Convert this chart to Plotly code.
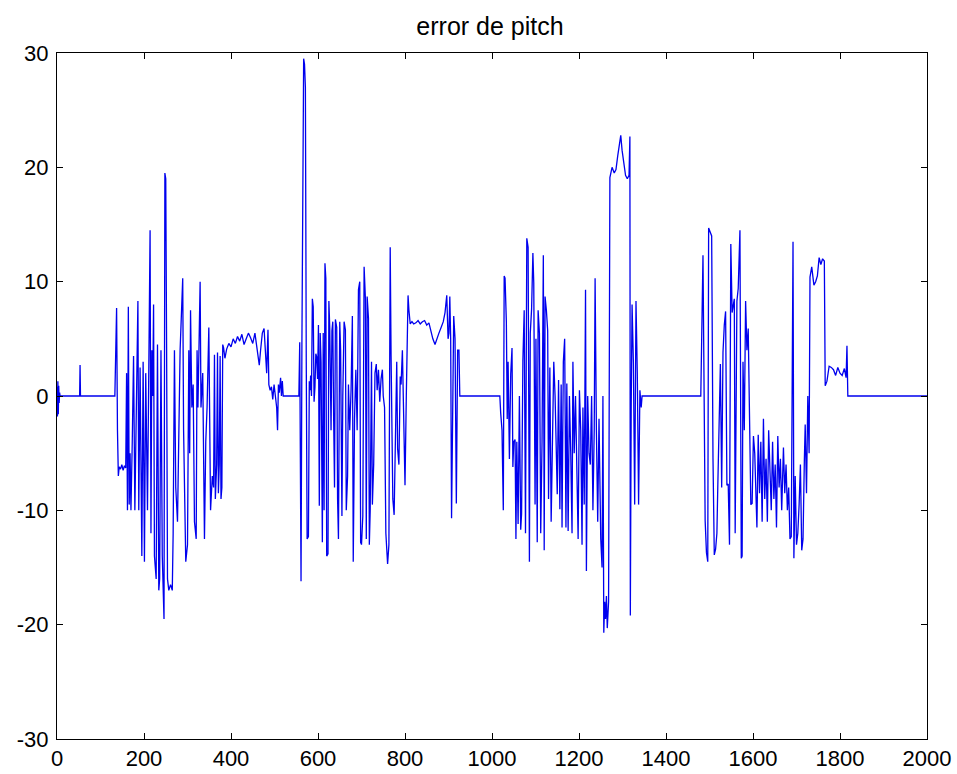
import plotly.graph_objects as go

# ---- data (sample index vs. pitch error) ----
start_x = [0, 1, 2, 3, 4, 5, 6, 7, 52, 53, 54, 133]
start_y = [0.8, -1.8, 1.3, -1.6, 0.9, -0.6, 0.3, 0, 0, 2.7, 0, 0]

burst1_x = [135, 137, 139, 141, 143, 146, 149, 152, 155, 158, 160, 162, 164, 166, 168, 170,
            173, 176, 179, 182, 186, 188, 191, 195, 198, 201, 204, 208, 214, 216, 218, 220,
            222, 224, 228, 231, 234, 236, 239, 242, 244, 246, 248, 250, 252, 254, 257, 261,
            265, 267, 270, 273, 277, 283, 289, 291, 296, 300, 303, 305, 307, 310, 313, 316,
            320, 322, 324, 329, 331, 335, 339, 342, 345, 347, 349, 353, 357, 360, 362, 364,
            367, 369, 371, 373, 375, 377, 379, 381, 383]
burst1_y = [3.7, 7.7, -3, -7, -6.2, -6.4, -6.0, -6.5, -6.1, -6.3, 2, -10, 7.8, -9.5, -5, -10,
            -4, 3.5, -10, -1, 8.3, -10, 2.5, -14, 3, -14.5, 2, -10, 14.5, -12, 4, 0,
            8, -14, -16, 4.5, -17, -16, 4, -14, -17, -19.5, 19.5, 19, 4, -16, -17, -16.5,
            -17, -12, 4, -8, -11, 4, 10.3, -3, -14.5, -13, 4, -5, 7.5, -1, 1, -11,
            -12.5, 4, -1, 10, -1, 2, -12.5, -4, -1, 3.8, 6, -10, -7, -8, 3.6, -9,
            -6, 3.8, -8.5, -6, 3.5, -9, -8, 4.5, 4.2]

plateau1_x = [386, 390, 395, 400, 405, 410, 415, 420, 425, 430, 435, 440, 445, 450, 455, 460,
              465, 468, 472, 476, 479, 482, 485, 487, 490, 493, 496, 499, 502, 505, 507, 509,
              511, 514, 516, 518, 520, 556]
plateau1_y = [3.3, 4.1, 4.6, 4.3, 5.0, 4.6, 5.2, 4.8, 5.4, 4.5, 5.0, 5.5, 5.1, 4.6, 5.5, 4.2,
              2.7, 4.0, 5.5, 5.9, 3.5, 2.0, 5.8, 1.0, 0.5, 0.8, -0.3, 1.0, 0.0, -1.0, -3.0, 1.0,
              0.3, 1.6, 0.0, 1.3, 0, 0]

burst2_x = [558, 561, 563, 567, 569, 571, 573, 575, 578, 580, 582, 583, 585, 587, 589, 591,
            593, 595, 597, 599, 601, 603, 605, 607, 610, 612, 614, 616, 618, 620, 623, 625,
            627, 630, 632, 634, 636, 638, 640, 643, 645, 647, 650, 652, 655, 657, 660, 663,
            665, 668, 670, 673, 676, 679, 681, 684, 687, 690, 693, 696, 698, 700, 703, 706,
            709, 711, 713, 716, 718, 720, 723, 725, 728, 731, 734, 736, 739, 742, 745, 748,
            750, 753, 756, 760, 763, 766, 768, 770, 772, 775, 778, 781, 783, 786, 789, 791,
            794, 797, 800, 803, 805, 807, 809, 812]
burst2_y = [4.7, -16.2, 4.5, 29.5, 29.0, 27.0, 3.0, -12.5, -12.3, 1.3, 0.5, 1.8, 0.0, 8.5, 7.8, -0.5,
            0.8, 3.7, 3.4, 1.5, 6.2, -9.6, 5.5, 3.0, -12.8, 5.5, -10, 11.6, 10.3, -14, -13.8, 8.3,
            6.0, -3, 5.7, 6.5, -2, -8, 6.7, 6.0, -9, -12.5, 6.5, 4.0, -10.5, 0, 6.5, 5.8,
            -10, -7, 1.0, -3, 0.5, 7.0, -14.5, -2, 2.3, -3, 9.3, 10, -12.8, -13, -10.5, 11.3,
            8.5, -12.5, 8.7, 6.8, -13, -10, 3, -9.5, -6, 2, 2.8, 0.5, 2.3, -0.5, 1.5, 2.3,
            0, -1, -12, -14.7, -13, 13.0, 3.5, -1.5, -9, -10.4, -1.5, 3, -4.6, -6, 1.7, 1.0,
            4.0, -3, -7.8, 0, 7.5, 8.8, 7.5, 6.3]

plateau2_x = [816, 820, 825, 830, 835, 840, 845, 850, 855, 860, 864, 869, 873, 878, 883, 888,
              892, 896, 899, 901, 903, 905, 907, 910, 912, 915, 918, 921, 924, 926, 1018]
plateau2_y = [6.5, 6.3, 6.4, 6.6, 6.3, 6.5, 6.6, 6.2, 6.4, 5.5, 5.0, 4.5, 5.0, 5.5, 6.0, 6.5,
              7.3, 8.8, 5.0, 5.5, 8.7, 5.0, -10.7, 3.5, 7.0, 5.0, -9.4, 4.0, 4.0, 0, 0]

burst3_x = [1020, 1023, 1026, 1028, 1030, 1033, 1035, 1037, 1040, 1043, 1046, 1048, 1050, 1053,
            1055, 1057, 1060, 1063, 1066, 1068, 1071, 1074, 1077, 1080, 1083, 1086, 1088, 1091,
            1094, 1096, 1099, 1101, 1104, 1106, 1109, 1112, 1115, 1118, 1120, 1122, 1125, 1128,
            1130, 1133, 1136, 1139, 1142, 1145, 1147, 1150, 1153, 1156, 1159, 1161, 1164, 1167,
            1170, 1172, 1175, 1178, 1181, 1184, 1186, 1189, 1192, 1195, 1198, 1201, 1204, 1207,
            1209, 1212, 1215, 1217, 1220, 1223, 1226, 1229, 1232, 1235, 1237, 1240, 1243, 1246,
            1248, 1250, 1253, 1255, 1257, 1259, 1261, 1263, 1265, 1268]
burst3_y = [-1.5, -3, -10, 10.5, 10.3, 6.5, -2, 3, -5.5, 1.9, 4.2, -6.2, -4, -3.8, -12.5, -4,
            -11.2, 0, -11.7, -10.3, 3.1, 7.5, -12, 13.8, 13.0, -14.5, 5.5, 7.6, 12.5, 9.9, -9.5, 5,
            -12.8, 7.5, 5.5, -12, -4, 12.3, -13.5, 8.7, 7.5, 5.7, -9, 2.5, -11, -3, 3, 0,
            -5, -8.6, 1.4, -9.9, 1, -11.5, 3, 5, -11.5, 1.1, -11.8, 0, -5, -12, 3, -5,
            0, -6.5, -12.5, 0.5, -3, -13, -1, -9.5, 9.3, -15.3, 0, -5, -6, 0, -10, -3,
            10.3, -3, -11, -2, -10.2, -12.5, -15, 0, -20.7, -18, -19.5, -17.5, -20.3, -18]

plateau3_x = [1271, 1276, 1281, 1285, 1289, 1292, 1296, 1299, 1303, 1307, 1311, 1315, 1317]
plateau3_y = [19.1, 20.0, 19.5, 19.8, 21.0, 21.8, 22.8, 21.5, 20.4, 19.3, 19.0, 19.3, 22.7]

burst4_x = [1318, 1320, 1322, 1325, 1328, 1331, 1334, 1337, 1340, 1343, 1345, 1478]
burst4_y = [-19.2, -1, 8.0, 3, -9.5, 8.3, 2, -9.5, 0.5, -1, 0, 0]

burst5_x = [1480, 1485, 1488, 1490, 1493, 1496, 1498, 1500, 1502, 1505, 1508, 1511, 1514, 1517,
            1519, 1522, 1525, 1528, 1531, 1534, 1537, 1540, 1543, 1546, 1549, 1552, 1554, 1557,
            1559, 1563, 1566, 1570, 1573, 1575, 1577, 1580, 1583, 1586, 1589, 1592, 1595, 1598,
            1601, 1604, 1607, 1609, 1612, 1615, 1618, 1621, 1624, 1627, 1630, 1633, 1636, 1639,
            1642, 1645, 1648, 1651, 1654, 1657, 1660, 1663, 1666, 1670, 1673, 1676, 1679, 1682,
            1685, 1688, 1690, 1692, 1694, 1697, 1700, 1703, 1706, 1709, 1712, 1715, 1718, 1720,
            1723, 1726, 1729, 1731, 1735, 1740, 1744, 1748, 1752, 1756, 1760, 1764, 1766, 1770,
            1775, 1780, 1785, 1790, 1795, 1800, 1805, 1810, 1814, 1816, 1818, 2000]
burst5_y = [0, 12.3, -1.5, -10.9, -13.7, -14.5, 14.7, 14.5, 14.3, 14, -5.4, -13.9, -13.4, -12,
            -8, -1.6, 2.8, -8, 3.8, 6.2, 7.4, -7.8, -7.7, -13, 13.3, 7.3, 8, 8.5,
            -12, 8.3, 9.4, 14.5, -14.2, -14, 3, -3, 8.3, 4, 5.9, -4.6, -9.5, -9.4,
            -3.5, -5, -10.3, -11.5, -3.4, -8.5, -4, -11, -2, -9, -5.5, -11, -3, -7.5,
            -10, -4, -9, -6, -11.5, -3.5, -8, -5.5, -10, -4.5, -8.5, -6, -10, -8,
            -12.5, -12.3, 6.1, 13.5, -14.2, -7, -13, -12, -9.5, -6, -13.5, -12.5, -5.7, -2.5,
            -8.5, 0, -5, 10.4, 11.3, 9.7, 10, 10.5, 12.1, 11.5, 12, 11.8, 0.9, 1.3,
            2.6, 2.5, 2.3, 1.8, 2.5, 2.0, 1.8, 2.4, 1.6, 4.4, 0, 0]

x_vals = start_x + burst1_x + plateau1_x + burst2_x + plateau2_x + burst3_x + plateau3_x + burst4_x + burst5_x
y_vals = start_y + burst1_y + plateau1_y + burst2_y + plateau2_y + burst3_y + plateau3_y + burst4_y + burst5_y

x_ticks = [0, 200, 400, 600, 800, 1000, 1200, 1400, 1600, 1800, 2000]
y_ticks = [-30, -20, -10, 0, 10, 20, 30]
title_text = "error de pitch"

fig = go.Figure()
fig.add_trace(go.Scatter(x=x_vals, y=y_vals, mode="lines",
                         line=dict(color="#0000ee", width=1.3), showlegend=False,
                         hoverinfo="skip"))

axis_common = dict(showgrid=False, zeroline=False, showline=True, linecolor="black",
                   linewidth=1, mirror="ticks", ticks="inside", ticklen=6,
                   tickcolor="black", tickwidth=1, automargin=False,
                   tickfont=dict(family="Liberation Sans, Arial, sans-serif", size=22, color="black"))

fig.update_layout(
    width=957, height=774,
    margin=dict(l=57, r=30, t=53, b=35),
    paper_bgcolor="white", plot_bgcolor="white",
    title=dict(text=title_text, x=490 / 957, xanchor="center", y=1 - 26 / 774, yanchor="middle",
               yref="container",
               font=dict(family="Liberation Sans, Arial, sans-serif", size=25, color="black")),
    xaxis=dict(range=[0, 2000], tickvals=x_ticks, ticktext=[str(v) for v in x_ticks],
               ticklabelstandoff=0, **axis_common),
    yaxis=dict(range=[-30, 30], tickvals=y_ticks, ticktext=[str(v) for v in y_ticks],
               ticklabelstandoff=3, **axis_common),
)

fig.write_html("out.html", config={"displayModeBar": False},
               post_script="document.body.style.margin='0';document.body.style.overflow='hidden';")
